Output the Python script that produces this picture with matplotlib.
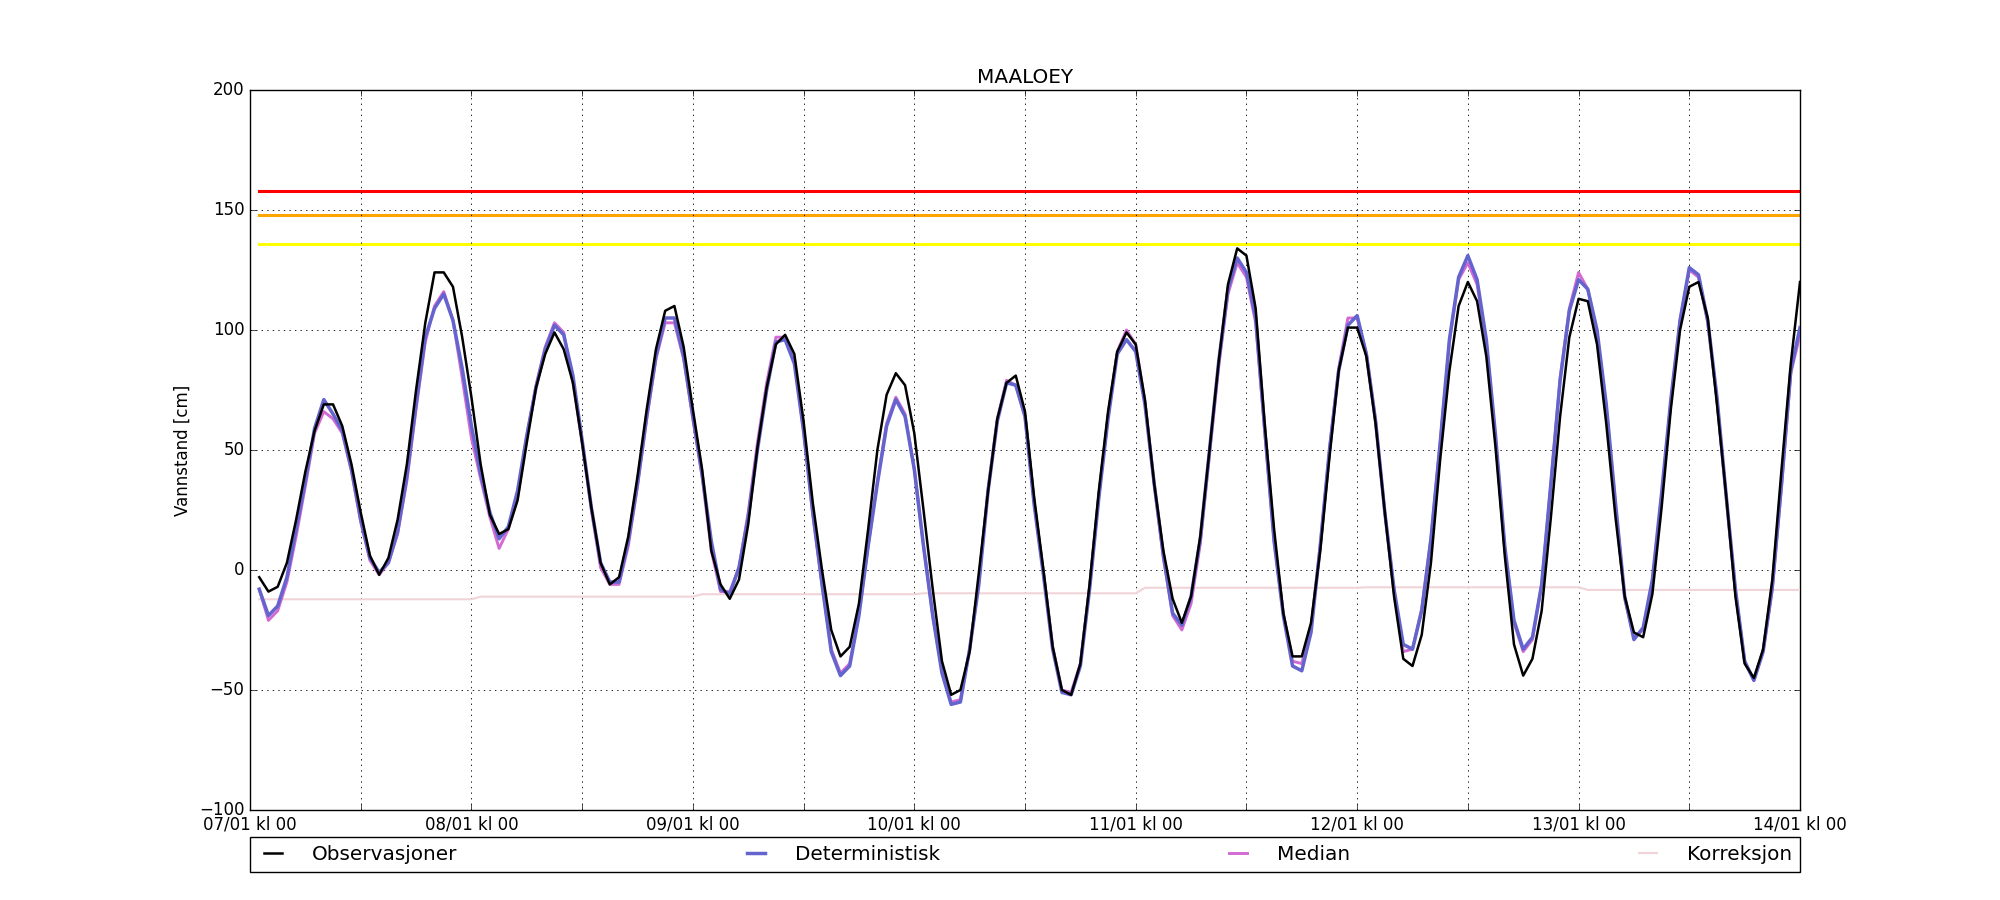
import numpy as np
import matplotlib
matplotlib.use('Agg')
import matplotlib.pyplot as plt

# hourly values, 07/01 kl 01 .. 14/01 kl 00
hours = np.arange(1, 169)

obs = [-3, -9, -7, 3, 21, 41, 58, 69, 69, 60, 44, 24,
       6, -2, 5, 21, 44, 75, 103, 124, 124, 118, 97, 72,
       44, 23, 15, 17, 29, 53, 76, 90, 99, 92, 78, 53,
       26, 3, -6, -3, 14, 39, 67, 92, 108, 110, 93, 67,
       42, 8, -6, -12, -4, 19, 51, 76, 94, 98, 90, 62,
       28, 0, -25, -36, -32, -14, 17, 50, 73, 82, 77, 57,
       25, -8, -38, -52, -50, -34, -1, 33, 63, 78, 81, 66,
       30, 0, -32, -50, -52, -39, -6, 33, 66, 91, 99, 94,
       71, 36, 8, -12, -22, -11, 14, 50, 87, 119, 134, 131,
       109, 60, 17, -18, -36, -36, -22, 8, 47, 83, 101, 101,
       89, 61, 24, -11, -37, -40, -27, 3, 46, 83, 110, 120,
       112, 89, 51, 6, -31, -44, -37, -17, 22, 64, 97, 113,
       112, 94, 61, 22, -11, -26, -28, -10, 26, 67, 100, 118,
       120, 105, 69, 31, -11, -39, -45, -33, -4, 42, 86, 120]

det = [-8, -19, -15, -3, 17, 37, 59, 71, 65, 58, 42, 21,
       5, -1, 3, 16, 39, 69, 97, 109, 115, 104, 84, 60,
       40, 24, 13, 18, 33, 56, 76, 92, 102, 98, 81, 54,
       26, 3, -5, -5, 12, 36, 64, 89, 105, 105, 89, 64,
       40, 12, -8, -10, 1, 22, 50, 75, 95, 96, 86, 58,
       24, -6, -34, -44, -40, -19, 10, 36, 60, 71, 64, 42,
       10, -19, -43, -56, -55, -33, -6, 33, 62, 78, 77, 64,
       27, -2, -33, -51, -52, -40, -8, 30, 63, 90, 96, 91,
       69, 36, 6, -18, -23, -11, 13, 50, 87, 117, 130, 124,
       105, 58, 12, -19, -40, -42, -26, 10, 50, 83, 102, 106,
       90, 62, 24, -8, -31, -33, -17, 13, 53, 96, 122, 131,
       121, 96, 56, 10, -21, -33, -28, -6, 36, 79, 108, 121,
       117, 100, 69, 28, -11, -29, -24, -4, 32, 71, 104, 126,
       123, 104, 72, 31, -8, -38, -46, -34, -7, 36, 83, 101]

median = [-8, -21, -17, -5, 14, 35, 57, 66, 63, 57, 41, 20,
          4, -2, 3, 15, 37, 67, 95, 110, 116, 104, 80, 55,
          38, 22, 9, 17, 30, 56, 77, 93, 103, 99, 78, 53,
          25, 1, -6, -6, 10, 35, 63, 88, 103, 103, 88, 63,
          39, 8, -9, -9, 1, 24, 53, 78, 97, 97, 87, 58,
          23, -6, -33, -43, -39, -18, 10, 37, 61, 72, 65, 42,
          10, -19, -42, -55, -54, -33, -5, 34, 63, 79, 77, 64,
          28, -1, -32, -50, -51, -39, -7, 31, 64, 91, 100, 94,
          70, 36, 5, -19, -25, -14, 11, 48, 85, 115, 128, 122,
          103, 57, 12, -18, -38, -39, -24, 10, 50, 84, 105, 105,
          90, 62, 24, -9, -34, -33, -16, 13, 53, 95, 121, 128,
          119, 95, 55, 9, -22, -34, -29, -6, 36, 80, 109, 124,
          117, 99, 68, 27, -12, -28, -25, -5, 31, 70, 104, 125,
          122, 103, 71, 30, -9, -38, -46, -34, -8, 35, 82, 98]

# correction is constant through each day
korr_daily = [-12.2, -11.1, -10.1, -9.7, -7.4, -7.2, -8.3]
korr = np.repeat(korr_daily, 24)

# warning levels
levels = [158, 148, 136]
level_colors = ['red', 'orange', 'yellow']

tick_hours = np.arange(0, 169, 12)
day_labels = ['07/01 kl 00', '08/01 kl 00', '09/01 kl 00', '10/01 kl 00',
              '11/01 kl 00', '12/01 kl 00', '13/01 kl 00', '14/01 kl 00']

plt.style.use('classic')
fig = plt.figure(figsize=(20, 9), dpi=100, facecolor='white')
ax = fig.add_subplot(111)

for lev, col in zip(levels, level_colors):
    ax.plot([hours[0], hours[-1]], [lev, lev], color=col, lw=2.2, zorder=2)

ax.plot(hours, obs, color='black', lw=1.8, label='Observasjoner', zorder=6)
ax.plot(hours, det, color='#6464cf', lw=2.5, label='Deterministisk', zorder=5)
ax.plot(hours, median, color='#d36ad3', lw=2.1, label='Median', zorder=4)
ax.plot(hours, korr, color='#f0d4d8', lw=1.5, label='Korreksjon', zorder=3)

ax.set_xlim(0, 168)
ax.set_ylim(-100, 200)
ax.set_yticks(np.arange(-100, 201, 50))
ax.set_xticks(tick_hours)
labels = []
for i in range(len(tick_hours)):
    labels.append(day_labels[i // 2] if i % 2 == 0 else '')
ax.set_xticklabels(labels)
ax.grid(True, color='black', linestyle=':', lw=0.6)
ax.set_title('MAALOEY')
ax.set_ylabel('Vannstand [cm]')

ax.legend(loc='upper left', bbox_to_anchor=(0, -0.0375, 1, 0), ncol=4,
          mode='expand', borderaxespad=0, fontsize='large', handlelength=1.5,
          handletextpad=1.2, fancybox=False, frameon=True)

fig.savefig('out.png', dpi=100, facecolor='white')
